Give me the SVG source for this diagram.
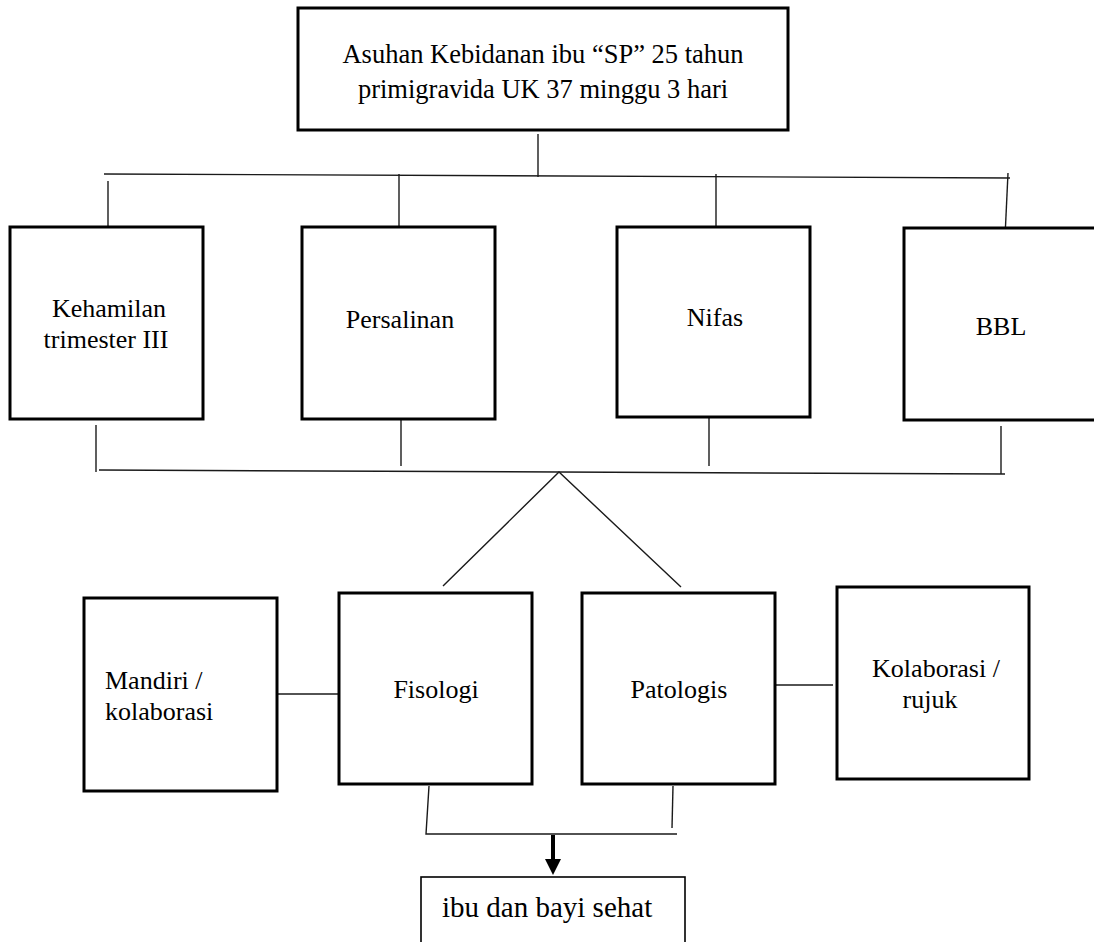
<svg xmlns="http://www.w3.org/2000/svg" width="1094" height="942" viewBox="0 0 1094 942">
<style>
.box{fill:#fff;stroke:#000;stroke-width:3}
.thin{fill:#fff;stroke:#000;stroke-width:1.6}
.ln{fill:none;stroke:#1a1a1a;stroke-width:1.4}
text{font-family:"Liberation Serif","Times New Roman",serif;font-size:26px;fill:#000}
.c{text-anchor:middle}
</style>
<rect width="1094" height="942" fill="#fff"/>
<g id="connectors">
<line class="ln" x1="538" y1="134" x2="538" y2="177"/>
<line class="ln" x1="104" y1="174" x2="1010" y2="178"/>
<line class="ln" x1="108" y1="181" x2="108" y2="227"/>
<line class="ln" x1="399" y1="174" x2="399" y2="227"/>
<line class="ln" x1="716" y1="174" x2="716" y2="227"/>
<line class="ln" x1="1008" y1="173" x2="1005" y2="237"/>
<line class="ln" x1="96" y1="425" x2="96" y2="472"/>
<line class="ln" x1="401" y1="419" x2="401" y2="466"/>
<line class="ln" x1="709" y1="417" x2="709" y2="466"/>
<line class="ln" x1="1001" y1="426" x2="1001" y2="474"/>
<line class="ln" x1="99" y1="470" x2="1005" y2="474"/>
<polyline class="ln" points="443,586 559,472 681,587"/>
<line class="ln" x1="277" y1="694" x2="339" y2="694"/>
<line class="ln" x1="770" y1="685" x2="833" y2="685"/>
<polyline class="ln" points="429,786 426,834 677,834"/>
<line class="ln" x1="673" y1="786" x2="672" y2="828"/>
<line x1="553" y1="835" x2="553" y2="861" stroke="#000" stroke-width="4"/>
<polygon points="545,859 561,859 553,875" fill="#000"/>
</g>
<g id="top"><rect class="box" x="298" y="8" width="490" height="122"/>
<text class="c" x="543" y="63" style="font-size:26.5px">Asuhan Kebidanan ibu “SP” 25 tahun</text>
<text class="c" x="543" y="98" style="font-size:26.5px">primigravida UK 37 minggu 3 hari</text></g>
<g id="kehamilan"><rect class="box" x="10" y="227" width="193" height="192"/>
<text class="c" x="109" y="317">Kehamilan</text>
<text class="c" x="106" y="348">trimester III</text></g>
<g id="persalinan"><rect class="box" x="302" y="227" width="193" height="192"/>
<text class="c" x="400" y="328">Persalinan</text></g>
<g id="nifas"><rect class="box" x="617" y="227" width="193" height="190"/>
<text class="c" x="715" y="326">Nifas</text></g>
<g id="bbl"><rect class="box" x="904" y="228" width="200" height="192"/>
<text class="c" x="1001" y="335">BBL</text></g>
<g id="mandiri"><rect class="box" x="84" y="598" width="193" height="193"/>
<text x="105" y="689">Mandiri /</text>
<text x="105" y="720">kolaborasi</text></g>
<g id="fisiologi"><rect class="box" x="339" y="593" width="193" height="191"/>
<text class="c" x="436" y="698">Fisologi</text></g>
<g id="patologis"><rect class="box" x="582" y="593" width="193" height="191"/>
<text class="c" x="679" y="698">Patologis</text></g>
<g id="kolaborasi"><rect class="box" x="837" y="587" width="192" height="192"/>
<text class="c" x="936" y="677">Kolaborasi /</text>
<text class="c" x="930" y="708">rujuk</text></g>
<g id="hasil"><rect class="thin" x="421" y="877" width="264" height="80"/>
<text x="442" y="917" style="font-size:29px">ibu dan bayi sehat</text></g>
</svg>
